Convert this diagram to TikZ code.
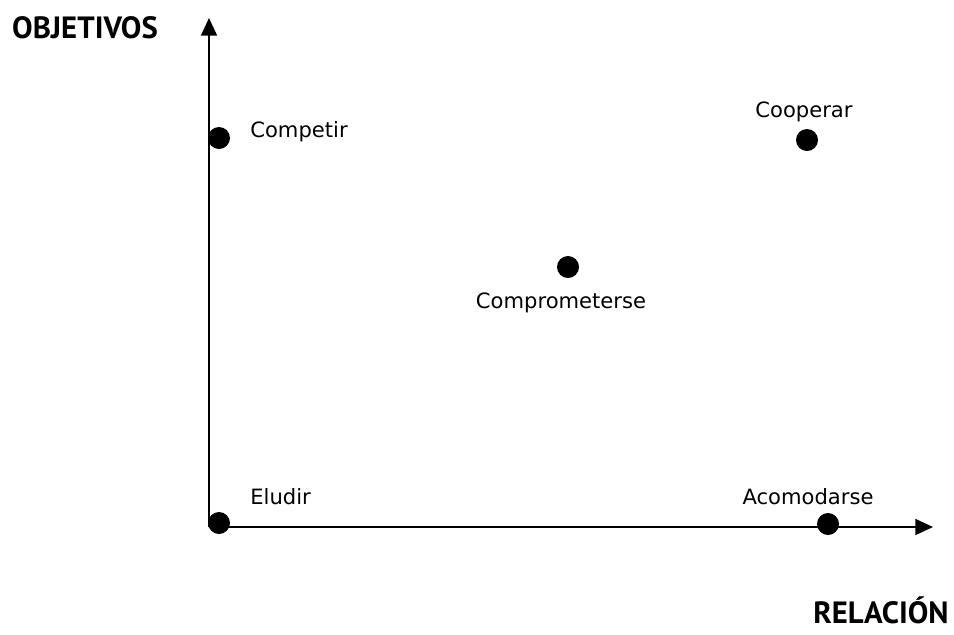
\documentclass[tikz,border=0pt]{standalone}
\usepackage{fontspec}
\setmainfont{DejaVu Sans}
\newfontfamily\axisfont{PT Sans}
\usetikzlibrary{arrows.meta}
\tikzset{
  punto/.style={circle,fill=black,inner sep=0pt,minimum size=22\pxu},
  etiqueta/.style={font=\fontsize{12}{14}\selectfont,inner sep=0pt},
  eje/.style={line width=1.2pt,-{Triangle[length=10pt,width=9pt]}},
  titulo/.style={font=\axisfont\bfseries\fontsize{17.5}{20}\selectfont,inner sep=0pt}
}
\newlength{\pxu}\setlength{\pxu}{0.2mm}
\begin{document}
\begin{tikzpicture}[x=0.2mm,y=-0.2mm]
  \useasboundingbox (0,0) rectangle (954,634);
  % ejes
  \coordinate (o) at (209,527);
  \coordinate (ytop) at (209,18);
  \coordinate (xend) at (933,527);
  \draw[eje] (o) -- (ytop);
  \draw[eje] (o) -- (xend);
  \node[titulo] (objetivos) at (85,28) {OBJETIVOS};
  \node[titulo] (relacion) at (881,610) {RELACIÓN};
  % estilos de conflicto
  \draw
    (219,138) node[punto] (competir){}
    (807,140) node[punto] (cooperar){}
    (568,267) node[punto] (comprometerse){}
    (219,523) node[punto] (eludir){}
    (828,524) node[punto] (acomodarse){};
  \begin{scope}[etiqueta]
    \node[anchor=west] (tcompetir) at (250,132) {Competir};
    \node (tcooperar) at (804,112) {Cooperar};
    \node (tcomprometerse) at (561,303) {Comprometerse};
    \node[anchor=west] (teludir) at (250,497) {Eludir};
    \node (tacomodarse) at (808,497) {Acomodarse};
  \end{scope}
\end{tikzpicture}
\end{document}
